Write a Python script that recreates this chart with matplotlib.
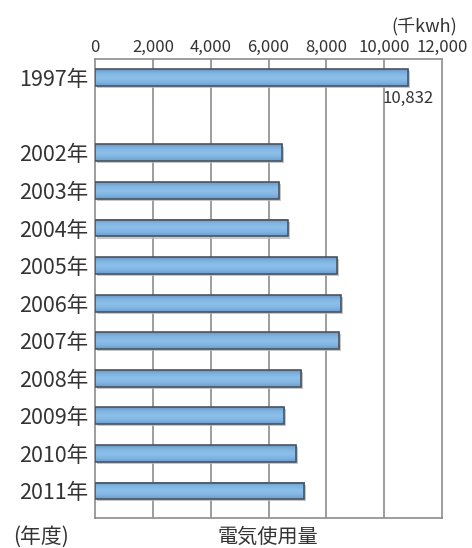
import numpy as np
import matplotlib
matplotlib.use('Agg')
import matplotlib.pyplot as plt
from matplotlib.colors import LinearSegmentedColormap
import matplotlib.patheffects as pe

plt.rcParams['font.family'] = ['Noto Sans CJK JP', 'DejaVu Sans']

years = ['1997年', '2002年', '2003年', '2004年', '2005年', '2006年',
         '2007年', '2008年', '2009年', '2010年', '2011年']
slots = [0, 2, 3, 4, 5, 6, 7, 8, 9, 10, 11]  # gap after 1997
usage = [10832, 6470, 6370, 6660, 8370, 8500, 8440, 7130, 6540, 6960, 7230]
xticks = [0, 2000, 4000, 6000, 8000, 10000, 12000]

text_col = '#333333'
grid_col = '#8c8c8c'

fig = plt.figure(figsize=(4.72, 5.48), dpi=100)
ax = fig.add_axes([95 / 472, 1 - 518 / 548, 347 / 472, 459 / 548])

h = 0.45
# soft shadow under the bars (only the shadow is drawn)
ax.barh(slots, usage, height=h, color='#cccccc', lw=0, zorder=2,
        path_effects=[pe.SimplePatchShadow(offset=(1.5, -1.5), shadow_rgbFace='#b8b8b8', alpha=0.8)])

# vertical gradient inside each bar: darker edges, light middle
cmap = LinearSegmentedColormap.from_list('bar', ['#6a98c6', '#82b6e3', '#8cc0ea', '#82b6e3', '#6c9ccc'])
grad = np.linspace(0, 1, 64).reshape(-1, 1)
for y, v in zip(slots, usage):
  ax.imshow(grad, cmap=cmap, aspect='auto', extent=[0, v, y + h / 2, y - h / 2],
            interpolation='bilinear', zorder=3)
ax.barh(slots, usage, height=h, left=0, facecolor='none', edgecolor='#4a5561',
        linewidth=1.2, zorder=4)

ax.set_xlim(0, 12000)
ax.set_ylim(11.72, -0.5)
ax.xaxis.tick_top()
ax.set_xticks(xticks)
ax.set_xticklabels([f'{t:,}' for t in xticks], fontsize=12, color=text_col)
ax.tick_params(axis='x', length=0, pad=2)
ax.set_yticks(slots)
ax.set_yticklabels(years, fontsize=15.5, color=text_col)
ax.tick_params(axis='y', length=0, pad=5)
for t in xticks[1:-1]:
  ax.axvline(t, color=grid_col, lw=1.2, zorder=1)
for s in ax.spines.values():
  s.set_color(grid_col)
  s.set_linewidth(1.2)

ax.text(usage[0], 0.33, f'{usage[0]:,}', ha='center', va='top', fontsize=12, color=text_col)

fig.text(457 / 472, 1 - 27 / 548, '(千kwh)', ha='right', va='center', fontsize=13, color=text_col)
fig.text(13 / 472, 1 - 537 / 548, '(年度)', ha='left', va='center', fontsize=15, color=text_col)
fig.text(268 / 472, 1 - 537 / 548, '電気使用量', ha='center', va='center', fontsize=14.5, color=text_col)

fig.savefig('out.png', dpi=100)
